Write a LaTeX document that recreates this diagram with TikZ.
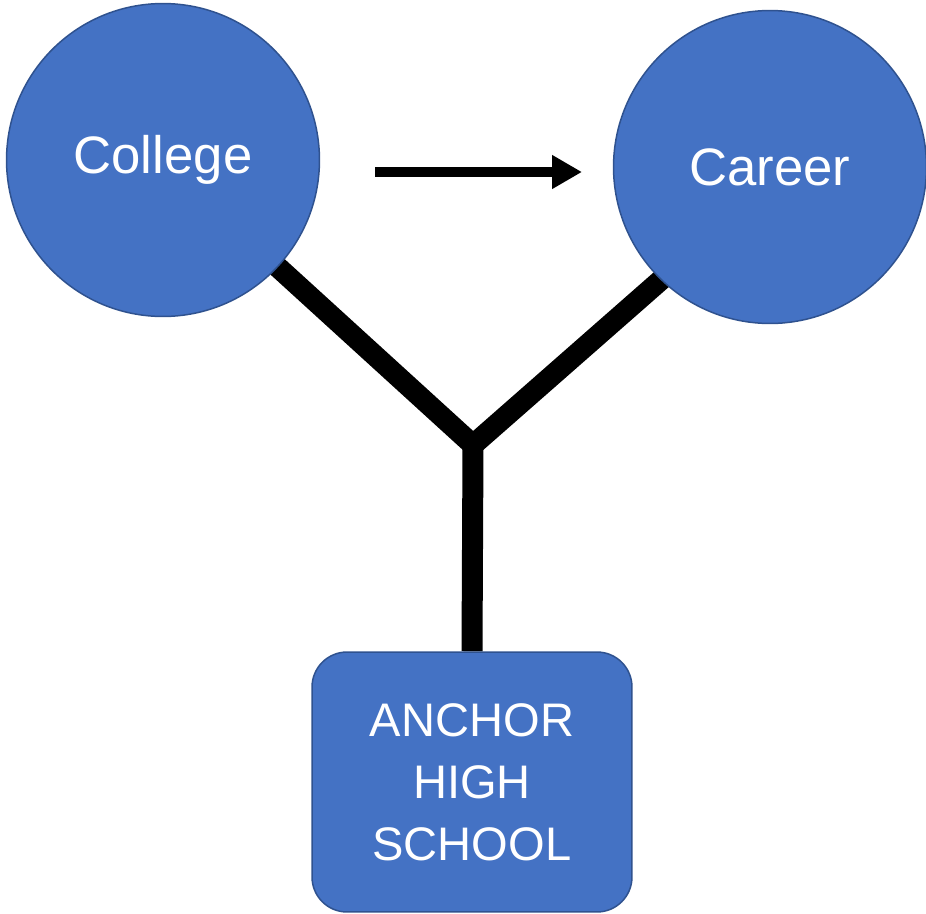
\documentclass[tikz,border=0pt]{standalone}
\usepackage{fontspec}
\setmainfont{Liberation Sans}
\usetikzlibrary{arrows.meta,backgrounds}

\definecolor{nodeblue}{HTML}{4472C4}
\definecolor{edgeblue}{HTML}{2F528F}

\tikzset{
  goalcircle/.style={circle, fill=nodeblue, draw=edgeblue, line width=0.85pt,
    minimum size=6.26cm, inner sep=0pt, text=white, font=\fontsize{30}{36}\selectfont},
  schoolbox/.style={rectangle, rounded corners=0.7cm, fill=nodeblue, draw=edgeblue,
    line width=0.85pt, minimum width=6.4cm, minimum height=5.2cm, inner sep=0pt,
    text=white, align=center, font=\fontsize{26.8}{35.3}\selectfont},
  forkline/.style={line width=0.42cm},
}

\begin{document}
\begin{tikzpicture}[x=0.02cm,y=-0.02cm]
                \useasboundingbox (0,0) rectangle (926,913);

                % Marking the two goals by circles
                \node [goalcircle] (college) at (163,160) {College};
                \node [goalcircle] (career) at (770,167) {Career};

                % Marking the school by a rounded box
                \node [schoolbox] (school) at (472,782) {ANCHOR\\HIGH\\SCHOOL};

                % Drawing arrow college to career
                \coordinate (arrowtail) at (375,172);
                \coordinate (arrowhead) at (582,172);
                \draw [line width=0.2cm, -{Triangle[length=0.6cm,width=0.64cm]}] (arrowtail) -- (arrowhead);%

                % Drawing the fork
                \coordinate (fork) at (473,445);
                \begin{scope}[on background layer]
                \draw [forkline, shorten >=-0.3cm] (fork) -- (college.-43);%
                \draw [forkline, shorten >=-0.3cm] (fork) -- (career.-134);%
                \draw [forkline] (fork) -- (school.north);%
                \end{scope}
            \end{tikzpicture}
\end{document}
